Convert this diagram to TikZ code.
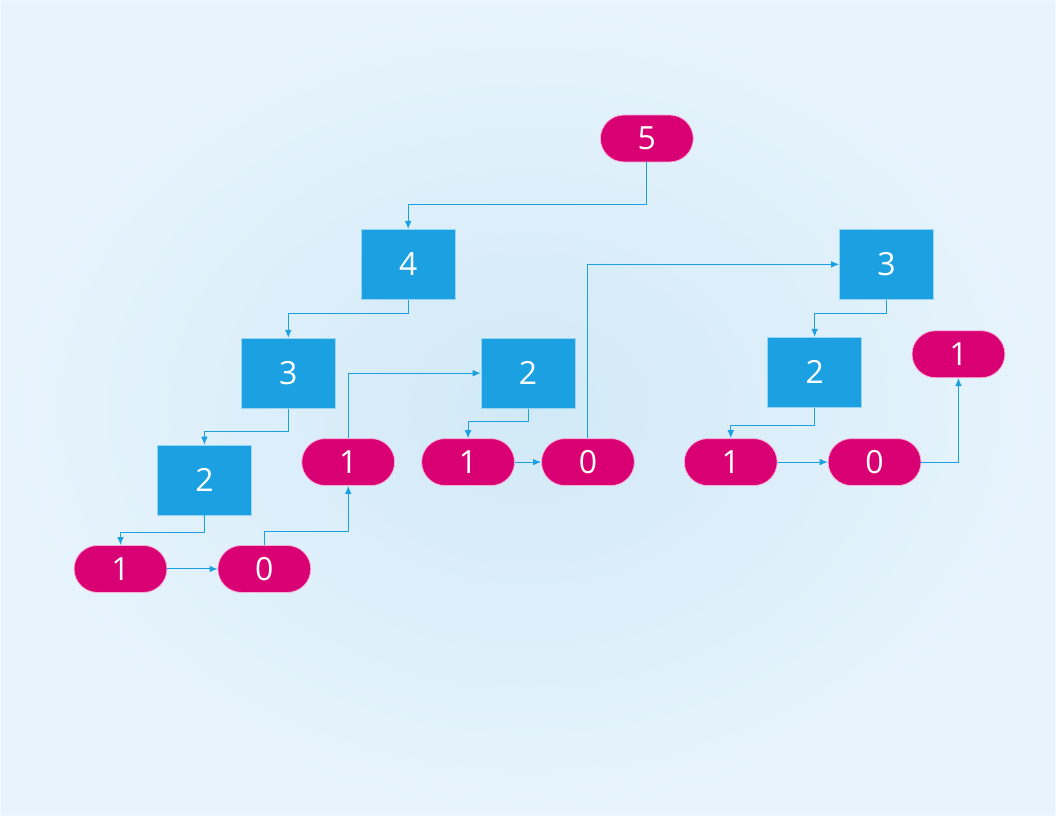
\documentclass[tikz,border=0pt]{standalone}
\usepackage{fontspec}
\setmainfont{Open Sans}
\usetikzlibrary{arrows.meta}

\definecolor{callpink}{HTML}{D80073}
\definecolor{callblue}{HTML}{1BA1E2}
\definecolor{bginner}{HTML}{D1E9F7}
\definecolor{bgouter}{HTML}{E7F4FC}
\definecolor{bgline}{HTML}{EEF8FD}

\tikzset{
  call/.style={rectangle, fill=callblue, draw=white!55!callblue, line width=0.6pt,
    minimum width=70.5pt, minimum height=52.5pt, inner sep=0pt, text=white,
    font=\fontsize{24}{28}\selectfont},
  leaf/.style={rectangle, rounded corners=17.6pt, fill=callpink, draw=white!70!callpink,
    line width=0.6pt, minimum width=69.75pt, minimum height=35.25pt, inner sep=0pt,
    text=white, font=\fontsize{24}{28}\selectfont},
  link/.style={draw=callblue, line width=0.75pt, -{Latex[length=6pt,width=5pt]}},
}

\begin{document}
\begin{tikzpicture}[x=0.75pt,y=-0.75pt]
\shade[inner color=bginner, outer color=bgouter, draw=bgline, line width=1pt] (0,0) rectangle (1056,816);

\begin{scope}[every node/.style={call}]
  \node (f4) at (408,264) {4};
  \node (f3) at (288,373) {3};
  \node (f2a) at (204,480) {2};
  \node (f2b) at (528,373) {2};
  \node (f3b) at (887,264) {3};
  \node (f2c) at (815,372) {2};
\end{scope}

\begin{scope}[every node/.style={leaf}]
  \node (f5) at (647,138) {5};
  \node (f1a) at (120,569) {1};
  \node (f0a) at (264,569) {0};
  \node (f1b) at (348,462) {1};
  \node (f1c) at (468,462) {1};
  \node (f0c) at (588,462) {0};
  \node (f1d) at (731,462) {1};
  \node (f0d) at (875,462) {0};
  \node (f1e) at (959,354) {1};
\end{scope}

\begin{scope}
  \draw [link] (f5.south) -- ++(0,42) -| (f4.north);
  \draw [link] (f4.south) -- ++(0,14) -| (f3.north);
  \draw [link] (f3.south) -- ++(0,23) -| (f2a.north);
  \draw [link] (f2a.south) -- ++(0,17) -| (f1a.north);
  \draw [link] (f1a) -- (f0a);
  \draw [link] (f0a.north) -- ++(0,-14) -| (f1b.south);
  \draw [link] (f1b.north) |- (f2b.west);
  \draw [link] (f2b.south) -- ++(0,13) -| (f1c.north);
  \draw [link] (f1c) -- (f0c);
  \draw [link] (f0c.north) |- (f3b.west);
  \draw [link] (f3b.south) -- ++(0,14) -| (f2c.north);
  \draw [link] (f2c.south) -- ++(0,18) -| (f1d.north);
  \draw [link] (f1d) -- (f0d);
  \draw [link] (f0d.east) -| (f1e.south);
\end{scope}
\end{tikzpicture}
\end{document}
